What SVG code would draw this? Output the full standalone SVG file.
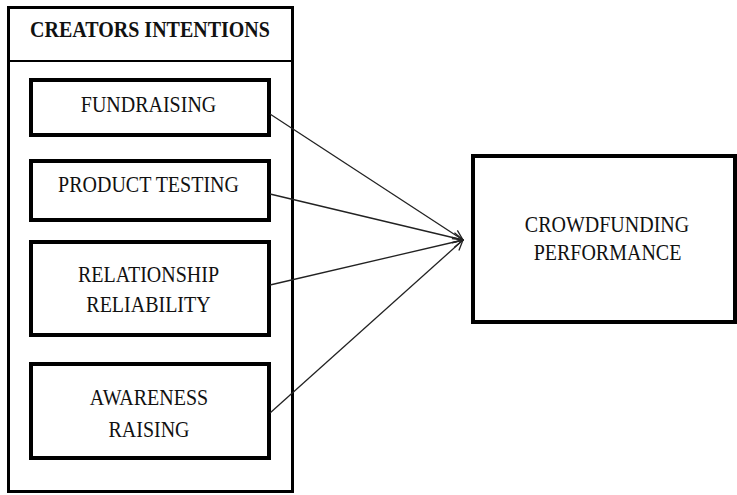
<svg xmlns="http://www.w3.org/2000/svg" width="737" height="495" viewBox="0 0 737 495">
<defs>
<style>
.box{fill:#fff;stroke:#000;stroke-width:4}
.t{font-family:"Liberation Serif","Times New Roman",serif;font-size:20px;fill:#111;text-anchor:middle}
.b{font-weight:bold}
.c{stroke:#222;stroke-width:1.3;fill:none;marker-end:url(#ah)}
</style>
<marker id="ah" viewBox="0 0 12 12" refX="11" refY="6" markerWidth="12" markerHeight="12" markerUnits="userSpaceOnUse" orient="auto">
<path d="M1,1 L11,6 L1,11" fill="none" stroke="#222" stroke-width="1.3"/>
</marker>
</defs>
<rect width="737" height="495" fill="#fff"/>
<g id="creators">
<rect x="8.5" y="7.5" width="284" height="484" fill="#fff" stroke="#000" stroke-width="3"/>
<line x1="8" y1="61" x2="293" y2="61" stroke="#000" stroke-width="2"/>
<text class="t b" transform="translate(150,37) scale(1,1.15)">CREATORS INTENTIONS</text>
</g>
<g id="fundraising">
<rect class="box" x="31" y="80" width="238" height="55"/>
<text class="t" transform="translate(148.5,111.5) scale(1,1.12)">FUNDRAISING</text>
</g>
<g id="product-testing">
<rect class="box" x="31" y="161" width="238" height="59"/>
<text class="t" transform="translate(148.5,192) scale(1,1.12)">PRODUCT TESTING</text>
</g>
<g id="relationship">
<rect class="box" x="31" y="242" width="238" height="93"/>
<text class="t" transform="translate(148.5,281.5) scale(1,1.12)">RELATIONSHIP</text>
<text class="t" transform="translate(148.5,311.5) scale(1,1.12)">RELIABILITY</text>
</g>
<g id="awareness">
<rect class="box" x="31" y="364" width="238" height="94"/>
<text class="t" transform="translate(149,405) scale(1,1.12)">AWARENESS</text>
<text class="t" transform="translate(149,436.5) scale(1,1.12)">RAISING</text>
</g>
<g id="performance">
<rect class="box" x="473" y="156" width="262" height="166"/>
<text class="t" transform="translate(607,231.5) scale(1,1.12)">CROWDFUNDING</text>
<text class="t" transform="translate(607.5,260) scale(1,1.12)">PERFORMANCE</text>
</g>
<g id="connectors">
<line class="c" x1="270" y1="114" x2="463" y2="240"/>
<line class="c" x1="270" y1="194" x2="463" y2="240"/>
<line class="c" x1="270" y1="285" x2="463" y2="240"/>
<line class="c" x1="270" y1="413" x2="463" y2="240"/>
</g>
</svg>
